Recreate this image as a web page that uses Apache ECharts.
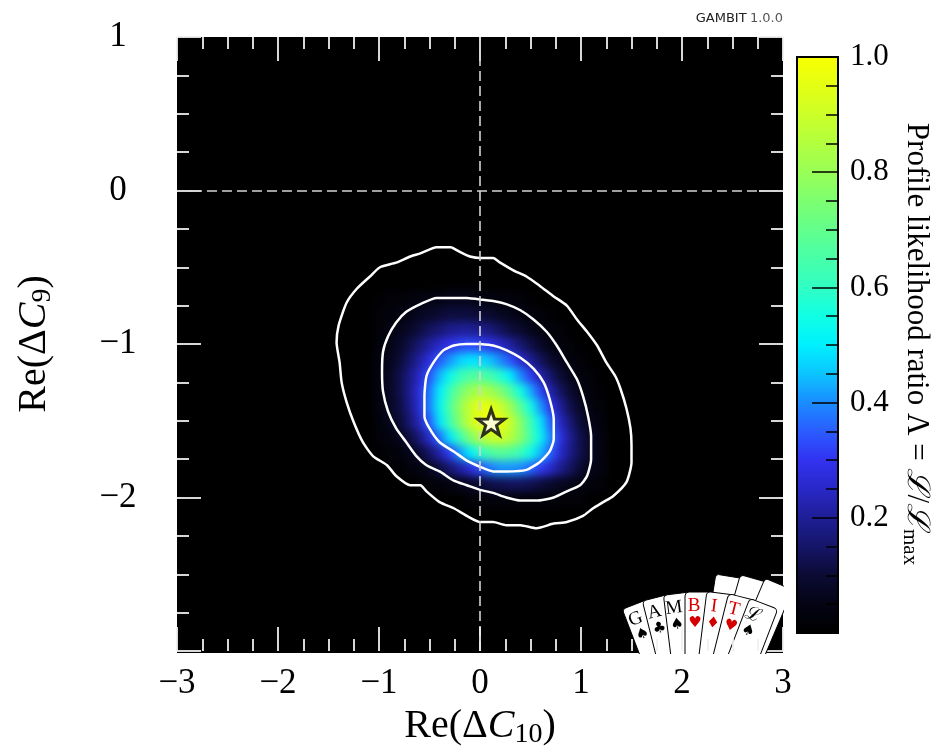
<!DOCTYPE html>
<html>
<head>
<meta charset="utf-8">
<script src="https://cdn.jsdelivr.net/npm/echarts@6/dist/echarts.min.js"></script>
<style>
  html, body { margin: 0; padding: 0; background: #fff; }
  #stage { position: relative; width: 938px; height: 754px; }
  #heatClip { position: absolute; left: 177px; top: 37px; width: 606px; height: 616px; overflow: hidden; background: #000; }
  #heat { position: absolute; left: -177px; top: -37px; width: 938px; height: 754px; filter: blur(4px); }
  #main { position: absolute; left: 0; top: 0; width: 938px; height: 754px; }
</style>
</head>
<body>
<div id="stage">
  <div id="heatClip"><div id="heat"></div></div>
  <div id="main"></div>
</div>
<script>
// profile likelihood ratio on a 0.1 x 0.1 grid (cell centres)
const heatX = [-1.0, -0.9, -0.8, -0.7, -0.6, -0.5, -0.4, -0.3, -0.2, -0.1, 0.0, 0.1,
               0.2, 0.3, 0.4, 0.5, 0.6, 0.7, 0.8, 0.9, 1.0, 1.1, 1.2];
const heatY = [-0.7, -0.8, -0.9, -1.0, -1.1, -1.2, -1.3, -1.4, -1.5, -1.6, -1.7, -1.8, -1.9, -2.0];
const heatRows = [
  [0.01,0.02,0.02,0.03,0.04,0.05,0.05,0.06,0.06,0.06,0.05,0.04,0.03,0.03,0.02,0.01,0,0,0,0,0,0,0],
  [0.02,0.03,0.04,0.05,0.07,0.08,0.10,0.11,0.11,0.11,0.10,0.09,0.07,0.06,0.04,0.03,0.02,0.01,0,0,0,0,0],
  [0.02,0.04,0.06,0.08,0.11,0.14,0.16,0.19,0.20,0.20,0.19,0.17,0.14,0.11,0.09,0.06,0.04,0.03,0.02,0,0,0,0],
  [0.03,0.05,0.08,0.12,0.16,0.21,0.25,0.29,0.32,0.33,0.32,0.29,0.25,0.21,0.16,0.12,0.08,0.05,0.03,0.02,0,0,0],
  [0.04,0.06,0.10,0.15,0.21,0.28,0.35,0.41,0.46,0.49,0.48,0.45,0.40,0.34,0.26,0.20,0.14,0.09,0.06,0.03,0.02,0,0],
  [0.04,0.07,0.12,0.18,0.25,0.34,0.44,0.53,0.61,0.66,0.67,0.64,0.58,0.50,0.40,0.31,0.22,0.15,0.10,0.06,0.03,0.02,0],
  [0.04,0.07,0.12,0.19,0.28,0.38,0.50,0.62,0.73,0.80,0.84,0.82,0.76,0.67,0.55,0.43,0.32,0.22,0.14,0.09,0.05,0.03,0.01],
  [0.04,0.07,0.11,0.18,0.27,0.39,0.52,0.66,0.79,0.89,0.95,0.95,0.90,0.81,0.68,0.55,0.41,0.29,0.20,0.12,0.07,0.04,0.02],
  [0.03,0.06,0.10,0.16,0.24,0.35,0.49,0.63,0.77,0.89,0.97,1.00,0.97,0.89,0.77,0.63,0.49,0.35,0.24,0.16,0.10,0.06,0.03],
  [0.02,0.04,0.06,0.11,0.17,0.26,0.37,0.49,0.62,0.75,0.84,0.90,0.90,0.86,0.77,0.65,0.52,0.39,0.28,0.19,0.12,0.07,0.04],
  [0.01,0.02,0.03,0.06,0.10,0.15,0.22,0.31,0.41,0.50,0.59,0.65,0.68,0.66,0.62,0.54,0.44,0.35,0.25,0.18,0.12,0.07,0.04],
  [0,0.01,0.01,0.03,0.04,0.07,0.11,0.16,0.21,0.27,0.33,0.38,0.41,0.41,0.40,0.36,0.31,0.25,0.19,0.14,0.09,0.06,0.04],
  [0,0,0,0,0.01,0.02,0.03,0.04,0.06,0.08,0.10,0.12,0.13,0.14,0.14,0.13,0.11,0.09,0.07,0.06,0.04,0.03,0.02],
  [0,0,0,0,0,0,0,0,0,0.02,0.02,0.03,0.03,0.03,0.03,0.03,0.03,0.03,0.02,0.02,0.02,0,0]
];
const cellStep = 0.1;

// best fit point
const bestFit = [0.11, -1.51];

// contours (inner = 1 sigma, middle = 2 sigma, outer = 3 sigma)
const contourInner = [
  [0.00,-1.00],[0.13,-1.01],[0.26,-1.04],[0.40,-1.09],[0.53,-1.16],[0.63,-1.25],[0.69,-1.36],
  [0.73,-1.49],[0.73,-1.62],[0.69,-1.70],[0.59,-1.77],[0.46,-1.82],[0.26,-1.83],[0.13,-1.83],
  [0.00,-1.80],[-0.13,-1.76],[-0.26,-1.70],[-0.40,-1.64],[-0.50,-1.55],[-0.55,-1.47],[-0.55,-1.34],
  [-0.53,-1.21],[-0.46,-1.12],[-0.36,-1.04],[-0.26,-1.01],[-0.13,-1.00],[0.00,-1.00]
];
const contourMiddle = [
  [0.00,-0.71],[0.13,-0.72],[0.26,-0.74],[0.40,-0.78],[0.53,-0.84],[0.66,-0.92],[0.76,-1.01],
  [0.86,-1.12],[0.96,-1.23],[1.02,-1.34],[1.07,-1.47],[1.10,-1.60],[1.10,-1.75],[1.06,-1.86],
  [0.99,-1.92],[0.86,-1.96],[0.73,-2.00],[0.56,-2.02],[0.40,-2.02],[0.26,-2.00],[0.13,-1.97],
  [0.00,-1.95],[-0.13,-1.92],[-0.26,-1.89],[-0.40,-1.83],[-0.53,-1.79],[-0.63,-1.73],[-0.73,-1.64],
  [-0.83,-1.55],[-0.91,-1.44],[-0.96,-1.31],[-0.97,-1.18],[-0.96,-1.05],[-0.91,-0.95],[-0.83,-0.86],
  [-0.73,-0.79],[-0.59,-0.74],[-0.43,-0.70],[-0.26,-0.70],[-0.13,-0.70],[0.00,-0.71]
];
const contourOuter = [
  [-0.28,-0.37],[-0.17,-0.41],[-0.10,-0.43],[0.00,-0.44],[0.13,-0.44],[0.20,-0.47],[0.33,-0.52],
  [0.46,-0.56],[0.59,-0.62],[0.73,-0.69],[0.86,-0.75],[0.96,-0.84],[1.06,-0.92],[1.16,-1.01],
  [1.25,-1.12],[1.34,-1.21],[1.39,-1.29],[1.45,-1.42],[1.49,-1.55],[1.50,-1.66],[1.50,-1.77],
  [1.45,-1.90],[1.32,-1.99],[1.22,-2.03],[1.12,-2.07],[1.02,-2.12],[0.86,-2.16],[0.73,-2.17],
  [0.56,-2.20],[0.40,-2.18],[0.26,-2.18],[0.13,-2.16],[0.00,-2.16],[-0.13,-2.12],[-0.26,-2.07],
  [-0.40,-2.03],[-0.53,-1.96],[-0.59,-1.92],[-0.69,-1.92],[-0.83,-1.86],[-0.92,-1.79],[-1.06,-1.73],
  [-1.16,-1.64],[-1.25,-1.51],[-1.32,-1.38],[-1.37,-1.25],[-1.39,-1.12],[-1.42,-0.99],[-1.40,-0.88],
  [-1.32,-0.73],[-1.22,-0.64],[-1.09,-0.56],[-0.99,-0.50],[-0.83,-0.47],[-0.69,-0.43],[-0.59,-0.41],
  [-0.43,-0.37],[-0.28,-0.37]
];

// colour map of the likelihood ratio, 0 -> 1 in steps of 0.05
const cmap = ['#000000','#040414','#0b0b34','#151568','#1e1e96','#2828c8','#3232f0','#2a5cff',
  '#1a8cff','#0cc4ff','#00f0ff','#10ffe4','#30ffc4','#48ffa8','#62ff8c','#7cff70','#98ff56',
  '#b2ff3e','#ccff28','#e4ff14','#f8ff00'];

// logo cards
const cardLetters = ['G', 'A', 'M', 'B', 'I', 'T', '\u2112'];
const cardSuits = ['\u2660', '\u2663', '\u2660', '\u2665', '\u2666', '\u2665', '\u2660'];
const cardRed = [false, false, false, true, true, true, false];
const cardAngles = [-21, -14, -7, 0, 7, 14, 21];
const backAngles = [9, 16, 23];

const serif = "'Liberation Serif', 'DejaVu Serif', serif";
const tickColor = '#f0f0f0';
const grid = { left: 177, top: 37, width: 606, height: 616 };

const heatData = [];
heatRows.forEach((row, j) => {
  row.forEach((v, i) => {
    if (v > 0) heatData.push([heatX[i], heatY[j], v]);
  });
});

function renderCell(params, api) {
  const c = api.coord([api.value(0), api.value(1)]);
  const s = api.size([cellStep, cellStep]);
  return {
    type: 'rect',
    shape: { x: c[0] - s[0] / 2, y: c[1] - s[1] / 2, width: s[0] + 0.6, height: s[1] + 0.6 },
    style: { fill: api.visual('color') }
  };
}

const minus = v => (v < 0 ? '\u2212' + Math.abs(v) : String(v));

// ---- heat layer (blurred underneath) ----
const heatChart = echarts.init(document.getElementById('heat'));
heatChart.setOption({
  animation: false,
  backgroundColor: '#000',
  grid: grid,
  xAxis: { type: 'value', min: -3, max: 3, show: false },
  yAxis: { type: 'value', min: -3, max: 1, show: false },
  visualMap: { show: false, type: 'continuous', min: 0, max: 1, dimension: 2, inRange: { color: cmap } },
  series: [{ type: 'custom', data: heatData, renderItem: renderCell, encode: { x: 0, y: 1 } }]
});

// ---- axes, contours, colour bar ----
const nameRich = {
  n: { fontSize: 40, fontFamily: serif, color: '#000' },
  i: { fontSize: 40, fontFamily: serif, fontStyle: 'italic', color: '#000' },
  s: { fontSize: 28, fontFamily: serif, color: '#000', padding: [18, 0, 0, 0] }
};

const tickStyle = {
  splitLine: { show: false },
  axisTick: { show: true, inside: true, length: 24, lineStyle: { color: tickColor, width: 1.8 } },
  minorTick: { show: true, splitNumber: 4, length: 12, lineStyle: { color: tickColor, width: 1.8 } }
};

const contourLine = data => ({
  type: 'line', data: data, xAxisIndex: 0, yAxisIndex: 0,
  showSymbol: false, smooth: 0.2, silent: true, clip: false,
  lineStyle: { color: '#fff', width: 2.5 }
});

const cards = [];
backAngles.forEach((a, i) => {
  cards.push({
    type: 'group', x: 700, y: 770, rotation: -a * Math.PI / 180,
    children: [{ type: 'rect', z: 5, shape: { x: -15, y: -196 - i * 3, width: 30, height: 110, r: 4 },
      style: { fill: '#fff', stroke: '#000', lineWidth: 1 } }]
  });
});
cardLetters.forEach((ch, i) => {
  const col = cardRed[i] ? '#d40000' : '#000';
  cards.push({
    type: 'group', x: 700, y: 770, rotation: -cardAngles[i] * Math.PI / 180,
    children: [
      { type: 'rect', z: 5, shape: { x: -15, y: -178, width: 30, height: 88, r: 4 },
        style: { fill: '#fff', stroke: '#000', lineWidth: 1 } },
      { type: 'text', z: 5, x: -6, y: -164,
        style: { text: ch, fontSize: 19, fontFamily: serif, fill: col, align: 'center', verticalAlign: 'middle' } },
      { type: 'text', z: 5, x: -5, y: -147,
        style: { text: cardSuits[i], fontSize: 15, fontFamily: 'DejaVu Sans', fill: col, align: 'center', verticalAlign: 'middle' } }
    ]
  });
});

const chart = echarts.init(document.getElementById('main'));
chart.setOption({
  animation: false,
  grid: [
    grid,
    { left: 797, top: 57, width: 41, height: 576, show: true, z: 6,
      backgroundColor: 'transparent', borderColor: '#000', borderWidth: 2 }
  ],
  xAxis: [
    Object.assign({
      type: 'value', gridIndex: 0, position: 'bottom', min: -3, max: 3, interval: 1, z: 10,
      axisLine: { show: false, onZero: false },
      axisLabel: { margin: 15, fontSize: 35, fontFamily: serif, color: '#000', formatter: minus },
      name: '{n|Re(\u0394}{i|C}{s|10}{n|)}', nameLocation: 'middle', nameGap: 52,
      nameTextStyle: { rich: nameRich, fontSize: 40, fontFamily: serif, color: '#000' }
    }, tickStyle),
    Object.assign({
      type: 'value', gridIndex: 0, position: 'top', min: -3, max: 3, interval: 1,
      axisLine: { show: false, onZero: false }, axisLabel: { show: false }
    }, tickStyle),
    { type: 'value', gridIndex: 1, min: 0, max: 1, show: false }
  ],
  yAxis: [
    Object.assign({
      type: 'value', gridIndex: 0, position: 'left', min: -3, max: 1, interval: 1,
      axisLine: { show: false, onZero: false },
      axisLabel: { margin: 59, align: 'center', fontSize: 35, fontFamily: serif, color: '#000',
        formatter: v => (v === -3 ? '' : minus(v)) },
      name: '{n|Re(\u0394}{i|C}{s|9}{n|)}', nameLocation: 'middle', nameGap: 120, nameRotate: 90,
      nameTextStyle: { rich: nameRich, fontSize: 40, fontFamily: serif, color: '#000' }
    }, tickStyle),
    Object.assign({
      type: 'value', gridIndex: 0, position: 'right', min: -3, max: 1, interval: 1,
      axisLine: { show: false, onZero: false }, axisLabel: { show: false }
    }, tickStyle),
    {
      type: 'value', gridIndex: 1, position: 'right', min: 0, max: 1, interval: 0.2, z: 7,
      axisLine: { show: false, onZero: false }, splitLine: { show: false },
      axisTick: { inside: true, length: 26, lineStyle: { color: '#000', width: 1.5 } },
      minorTick: { show: true, splitNumber: 4, length: 12, lineStyle: { color: '#000', width: 1.5 } },
      axisLabel: { margin: 12, fontSize: 31, fontFamily: serif, color: '#000',
        formatter: v => (v === 0 ? '' : v.toFixed(1)) }
    }
  ],
  visualMap: {
    type: 'continuous', min: 0, max: 1, seriesIndex: 4, calculable: false, hoverLink: false,
    orient: 'vertical', left: 797, top: 57, itemWidth: 41, itemHeight: 576, padding: 0,
    inRange: { color: cmap }
  },
  graphic: cards.concat([
    { type: 'rect', z: 6, shape: { x: 590, y: 654, width: 207, height: 100 }, style: { fill: '#fff' } },
    { type: 'rect', z: 6, shape: { x: 784, y: 520, width: 12, height: 140 }, style: { fill: '#fff' } },
    { type: 'text', x: 783, y: 19, z: 6,
      style: { text: '{b|GAMBIT} {v|1.0.0}', align: 'right', verticalAlign: 'middle',
        rich: { b: { fontSize: 13, fontFamily: 'DejaVu Sans', fill: '#222' },
                v: { fontSize: 13, fontFamily: 'DejaVu Sans', fill: '#555' } } } },
    { type: 'text', x: 916, y: 344, rotation: -Math.PI / 2, z: 6,
      style: {
        text: 'Profile likelihood ratio \u039b = {i|\u2112}/{i|\u2112}{s|max}',
        fontSize: 31, fontFamily: serif, fill: '#000', align: 'center', verticalAlign: 'middle',
        rich: {
          i: { fontSize: 31, fontFamily: serif, fontStyle: 'italic', fill: '#000' },
          s: { fontSize: 21, fontFamily: serif, fill: '#000', padding: [13, 0, 0, 0] }
        }
      } }
  ]),
  series: [
    contourLine(contourInner),
    contourLine(contourMiddle),
    Object.assign(contourLine(contourOuter), {
      markLine: {
        silent: true, symbol: ['none', 'none'], label: { show: false },
        lineStyle: { color: '#d4d4d4', type: [10, 5], width: 1.6 },
        data: [{ xAxis: 0 }, { yAxis: 0 }]
      }
    }),
    {
      type: 'scatter', data: [bestFit], xAxisIndex: 0, yAxisIndex: 0, z: 5, silent: true,
      symbol: 'path://M0,-10L2.35,-3.24L9.51,-3.09L3.8,1.24L5.88,8.09L0,4L-5.88,8.09L-3.8,1.24L-9.51,-3.09L-2.35,-3.24Z',
      symbolSize: [27, 26],
      itemStyle: { color: '#fff', borderColor: '#000', borderWidth: 3 }
    },
    { type: 'custom', data: [], xAxisIndex: 2, yAxisIndex: 2, renderItem: () => null }
  ]
});
</script>
</body>
</html>
